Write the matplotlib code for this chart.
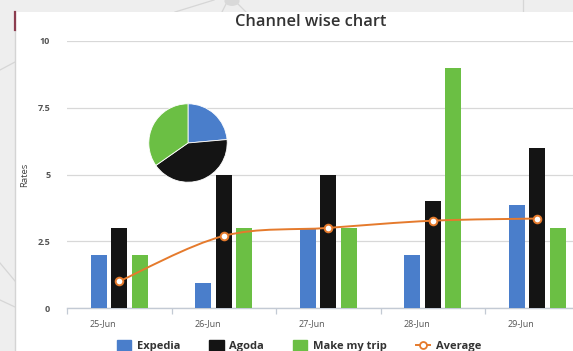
import numpy as np
import matplotlib
matplotlib.use("Agg")
import matplotlib.pyplot as plt
from matplotlib.patches import Rectangle, PathPatch, Circle
from matplotlib.path import Path
from matplotlib.lines import Line2D
from matplotlib.transforms import ScaledTranslation

# ---------------- data ----------------
dates = ["25-Jun", "26-Jun", "27-Jun", "28-Jun", "29-Jun"]
expedia = [2.0, 0.95, 3.0, 2.0, 3.85]
agoda = [3.0, 5.0, 5.0, 4.0, 6.0]
makemytrip = [2.0, 3.0, 3.0, 9.0, 3.0]
average = [1.0, 2.7, 3.0, 3.27, 3.35]
pie_shares = [23.6, 41.7, 34.7]
series_names = ["Expedia", "Agoda", "Make my trip"]
yticks = [0, 2.5, 5, 7.5, 10]
ytick_labels = ["0", "2.5", "5", "7.5", "10"]

C_BLUE = "#4a7ecb"
C_BLACK = "#141414"
C_GREEN = "#6bbf44"
C_ORANGE = "#e57a2c"

W, H = 573, 351
fig = plt.figure(figsize=(W / 100, H / 100), dpi=100)
fig.patch.set_facecolor("#eeeeee")

def fx(px):
    return px / W

def fy(py):
    return 1 - py / H

# background network decoration (outside the card)
for (x0, y0, x1, y1) in [(175, 12, 214, 0), (226, 4, 222, 12), (238, 4, 246, 12),
                         (0, 263, 15, 281), (0, 300, 15, 307), (0, 70, 15, 62),
                         (523, 0, 523, 12)]:
    fig.add_artist(Line2D([fx(x0), fx(x1)], [fy(y0), fy(y1)], color="#d6d6d6",
                          lw=0.9, transform=fig.transFigure, zorder=-3))
fig.add_artist(Circle((fx(232), fy(1)), 0.012, transform=fig.transFigure,
                      color="#d9d9d9", zorder=-3))

# white card
fig.add_artist(Rectangle((fx(15), 0), 1 - fx(15), fy(12), transform=fig.transFigure,
                         facecolor="white", edgecolor="none", zorder=-2))
fig.add_artist(Line2D([fx(15), fx(15)], [0, fy(12)], color="#d4d4d4", lw=1.0,
                      transform=fig.transFigure, zorder=-1.5))
fig.add_artist(Line2D([fx(15), fx(15)], [fy(30), fy(12)], color="#8c3d4f", lw=1.6,
                      transform=fig.transFigure, zorder=-1.4))

# main axes: x from 67px to 589.5px (right part cropped), y 41px..308px
left_px, right_px = 67, 589.5
top_px, bot_px = 41, 308
ax = fig.add_axes([fx(left_px), fy(bot_px), fx(right_px - left_px), (bot_px - top_px) / H])
ax.set_facecolor("none")

x = np.arange(len(dates))
bw = 0.155
step = 0.197
ax.bar(x - step, expedia, bw, color=C_BLUE, zorder=3, label=series_names[0])
ax.bar(x, agoda, bw, color=C_BLACK, zorder=3, label=series_names[1])
ax.bar(x + step, makemytrip, bw, color=C_GREEN, zorder=3, label=series_names[2])

# smoothed average line (Catmull-Rom -> cubic Bezier)
pts = np.column_stack([x, average]).astype(float)
verts = [tuple(pts[0])]
codes = [Path.MOVETO]
n = len(pts)
for i in range(n - 1):
    p0 = pts[i - 1] if i > 0 else pts[i]
    p1 = pts[i]
    p2 = pts[i + 1]
    p3 = pts[i + 2] if i + 2 < n else pts[i + 1]
    c1 = p1 + (p2 - p0) / 6.0
    c2 = p2 - (p3 - p1) / 6.0
    verts += [tuple(c1), tuple(c2), tuple(p2)]
    codes += [Path.CURVE4, Path.CURVE4, Path.CURVE4]
ax.add_patch(PathPatch(Path(verts, codes), facecolor="none", edgecolor=C_ORANGE,
                       lw=1.4, zorder=4))
ax.plot(x, average, linestyle="none", marker="o", markersize=5.5,
        markerfacecolor="white", markeredgecolor=C_ORANGE, markeredgewidth=1.4, zorder=5)

ax.set_xlim(-0.5, len(dates) - 0.5)
ax.set_ylim(0, 10)
ax.set_yticks(yticks)
ax.set_yticklabels(ytick_labels)
ax.set_xticks(x)
ax.set_xticklabels(dates)
ax.set_xticks(np.arange(len(dates) + 1) - 0.5, minor=True)
ax.grid(axis="y", color="#d8d8d8", lw=0.9, zorder=0)
for s in ["top", "right", "left"]:
    ax.spines[s].set_visible(False)
ax.spines["bottom"].set_color("#c3cad4")
ax.spines["bottom"].set_linewidth(1.0)
ax.tick_params(axis="y", length=0, pad=12, labelsize=6.5, labelcolor="#555555")
ax.tick_params(axis="x", which="major", length=0, pad=8, labelsize=6.5, labelcolor="#555555")
ax.tick_params(axis="x", which="minor", length=4, color="#c3cad4", width=0.9)
for lab in ax.get_yticklabels():
    lab.set_fontweight("bold")
    lab.set_family("Open Sans")
for lab in ax.get_xticklabels():
    lab.set_family("Open Sans")
    lab.set_transform(lab.get_transform() + ScaledTranslation(-0.16, 0, fig.dpi_scale_trans))

fig.text(fx(25), fy(175), "Rates", rotation=90, ha="center", va="center",
         fontsize=6.8, color="#444444", family="Open Sans")
fig.text(fx(311), fy(22), "Channel wise chart", ha="center", va="center",
         fontsize=11.8, color="#333333", family="Open Sans", weight="semibold")

# pie inset
pax = fig.add_axes([fx(139), fy(192), fx(98), 98 / H])
pax.pie(pie_shares, colors=[C_BLUE, C_BLACK, C_GREEN], startangle=90,
        counterclock=False, wedgeprops=dict(edgecolor="white", linewidth=0.6))
pax.set_aspect("equal")
pax.axis("off")

# legend
handles = [Rectangle((0, 0), 1, 1, color=C_BLUE),
           Rectangle((0, 0), 1, 1, color=C_BLACK),
           Rectangle((0, 0), 1, 1, color=C_GREEN),
           Line2D([0], [0], color=C_ORANGE, lw=1.4, marker="o", markersize=5,
                  markerfacecolor="white", markeredgecolor=C_ORANGE, markeredgewidth=1.3)]
labels = series_names + ["Average"]
leg = fig.legend(handles, labels, loc="center", bbox_to_anchor=(fx(299), fy(346)),
                 ncol=4, frameon=False, handlelength=1.3, handleheight=1.3,
                 handletextpad=0.5, columnspacing=2.6,
                 prop=dict(family="Open Sans", weight="bold", size=8))
for t in leg.get_texts():
    t.set_color("#333333")

fig.savefig("out.png", dpi=100, facecolor=fig.get_facecolor())
